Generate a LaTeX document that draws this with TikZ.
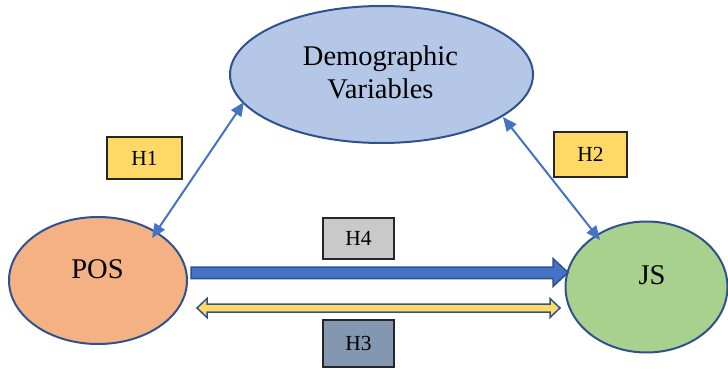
\documentclass[tikz,border=0pt]{standalone}
\usepackage{fontspec}
\setmainfont{Liberation Serif}
\usetikzlibrary{arrows.meta,shapes.geometric}
\definecolor{outl}{HTML}{2F528F}
\definecolor{accblue}{HTML}{4472C4}
\definecolor{demofill}{HTML}{B4C7E7}
\definecolor{posfill}{HTML}{F4B183}
\definecolor{jsfill}{HTML}{A9D18E}
\definecolor{hyel}{HTML}{FFD966}
\definecolor{hgrey}{HTML}{C9C9C9}
\definecolor{hslate}{HTML}{8497B0}
\tikzset{
  ell/.style={ellipse, draw=outl, line width=2pt, inner sep=0pt},
  bigtext/.style={font=\fontsize{28.5}{33}\selectfont, inner sep=0pt, align=center},
  hbox/.style={draw=black!85, line width=1.4pt, inner sep=0pt,
    font=\fontsize{21.5}{24}\selectfont},
  thinarrow/.style={draw=accblue, line width=2pt,
    {Triangle[length=14pt,width=12pt]}-{Triangle[length=14pt,width=12pt]}},
  blockarrow/.style={fill=accblue, draw=outl, line width=1.5pt, line join=miter},
  dblarrow/.style={fill=hyel, draw=outl, line width=1.5pt, line join=miter}
}
\begin{document}
\begin{tikzpicture}[x=1pt,y=-1pt]
\useasboundingbox (0,0) rectangle (728,369);
% ellipses
\node[ell, fill=demofill, minimum width=303pt, minimum height=137pt] (demo) at (381.5,74.5) {};
\node[bigtext] (demotext) at (380.5,72.5) {Demographic\\Variables};
\node[ell, fill=posfill, minimum width=178pt, minimum height=127pt] (pos) at (98,280.5) {};
\node[bigtext] (postext) at (97.5,269) {POS};
\node[ell, fill=jsfill, minimum width=162pt, minimum height=131pt] (js) at (646.5,287) {};
\node[bigtext] (jstext) at (652,275) {JS};
% hypothesis boxes
\node[hbox, fill=hyel, minimum width=75pt, minimum height=42pt] (h1) at (144.5,158) {H1};
\node[hbox, fill=hyel, minimum width=73pt, minimum height=45pt] (h2) at (590.5,154.5) {H2};
\node[hbox, fill=hgrey, minimum width=71pt, minimum height=41pt] (h4) at (358.5,238.5) {H4};
\node[hbox, fill=hslate, minimum width=71pt, minimum height=47pt] (h3) at (358.5,343.5) {H3};
% thin double arrows
\coordinate (h1a) at (152,238);
\coordinate (h1b) at (244,102);
\coordinate (h2a) at (503,117);
\coordinate (h2b) at (600,240);
\draw[thinarrow] (h1a) -- (h1b);
\draw[thinarrow] (h2a) -- (h2b);
% block arrow POS -> JS
\draw[blockarrow] (191,267) -- (553,267) -- (553,258.5) -- (568,272.5) -- (553,286.5)
  -- (553,278.5) -- (191,278.5) -- cycle;
% double block arrow
\draw[dblarrow] (197,308) -- (207,298.5) -- (207,304) -- (550,304) -- (550,298.5)
  -- (560,308) -- (550,317.5) -- (550,312) -- (207,312) -- (207,317.5) -- cycle;
\end{tikzpicture}
\end{document}
